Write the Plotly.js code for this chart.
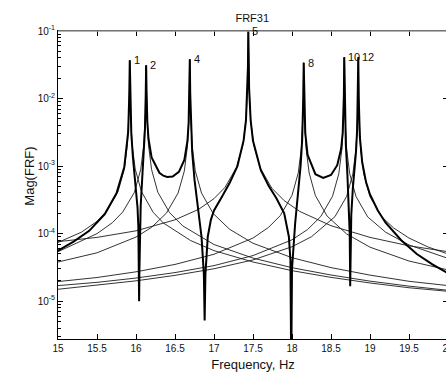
<!DOCTYPE html>
<html>
<head>
<meta charset="utf-8">
<script src="https://cdn.plot.ly/plotly-3.0.1.min.js"></script>
<style>
html, body { margin: 0; padding: 0; overflow: hidden; background: #fff; }
#chart { width: 448px; height: 376px; }
</style>
</head>
<body>
<div id="chart"></div>
<script>
// ---- data ----
const freqTicks = [15, 15.5, 16, 16.5, 17, 17.5, 18, 18.5, 19, 19.5, 20];
const freqTickText = ['15', '15.5', '16', '16.5', '17', '17.5', '18', '18.5', '19', '19.5', '20'];
const magTicks = [1e-5, 1e-4, 1e-3, 1e-2, 1e-1];
const magTickText = ['10<sup>-5</sup>', '10<sup>-4</sup>', '10<sup>-3</sup>', '10<sup>-2</sup>', '10<sup>-1</sup>'];

const modeLabels = ['1', '2', '4', '5', '8', '10', '12'];
const peakFreq = [15.92, 16.13, 16.69, 17.44, 18.15, 18.67, 18.85];
const peakMag = [0.037, 0.031, 0.038, 0.1, 0.034, 0.041, 0.041];

const mode1F = [15, 15.3, 15.5, 15.62, 15.77, 15.85, 15.89, 15.91, 15.92, 15.93, 15.95, 15.99, 16.07, 16.22, 16.35, 16.7, 17, 17.5, 18, 18.5, 19, 19.5, 20];
const mode1Mag = [7.4e-5, 1.05e-4, 1.52e-4, 2.11e-4, 4.2e-4, 9.0e-4, 2.09e-3, 6.3e-3, 0.037, 6.3e-3, 2.09e-3, 9.0e-4, 4.2e-4, 2.07e-4, 1.44e-4, 7.9e-5, 5.6e-5, 3.8e-5, 2.83e-5, 2.25e-5, 1.86e-5, 1.58e-5, 1.4e-5];

const mode2F = [15, 15.5, 15.7, 15.83, 15.98, 16.06, 16.10, 16.12, 16.13, 16.14, 16.16, 16.20, 16.28, 16.43, 16.6, 17, 17.5, 18, 18.5, 19, 19.5, 20];
const mode2Mag = [5.4e-5, 1.0e-4, 1.46e-4, 2.09e-4, 4.1e-4, 8.85e-4, 2.07e-3, 6.2e-3, 0.031, 6.2e-3, 2.07e-3, 8.85e-4, 4.1e-4, 2.05e-4, 1.3e-4, 6.9e-5, 4.34e-5, 3.13e-5, 2.44e-5, 1.98e-5, 1.67e-5, 1.45e-5];

const mode4F = [15, 15.5, 16, 16.2, 16.39, 16.54, 16.62, 16.66, 16.68, 16.69, 16.70, 16.72, 16.76, 16.84, 16.99, 17.2, 17.5, 18, 18.5, 19, 19.5, 20];
const mode4Mag = [3.8e-5, 5.2e-5, 8.9e-5, 1.24e-4, 2.01e-4, 4.0e-4, 8.5e-4, 2.0e-3, 6.0e-3, 0.038, 6.0e-3, 2.0e-3, 8.5e-4, 3.98e-4, 1.98e-4, 1.16e-4, 7.2e-5, 4.4e-5, 3.14e-5, 2.43e-5, 1.97e-5, 1.7e-5];

const mode5F = [15, 15.5, 16, 16.5, 16.8, 17.0, 17.14, 17.29, 17.37, 17.41, 17.43, 17.44, 17.45, 17.47, 17.51, 17.59, 17.74, 17.9, 18.1, 18.5, 19, 19.5, 20];
const mode5Mag = [7.6e-5, 8.8e-5, 1.1e-4, 1.6e-4, 2.28e-4, 3.3e-4, 4.82e-4, 9.6e-4, 2.05e-3, 4.78e-3, 1.43e-2, 0.1, 1.43e-2, 4.78e-3, 2.05e-3, 9.5e-4, 4.73e-4, 3.08e-4, 2.13e-4, 1.31e-4, 8.8e-5, 6.6e-5, 5.4e-5];

const mode8F = [15, 15.5, 16, 16.5, 17, 17.5, 17.7, 17.85, 18.0, 18.08, 18.12, 18.14, 18.15, 18.16, 18.18, 18.22, 18.3, 18.45, 18.7, 19, 19.5, 20];
const mode8Mag = [1.95e-5, 2.24e-5, 2.72e-5, 3.5e-5, 4.95e-5, 8.6e-5, 1.24e-4, 1.85e-4, 3.69e-4, 7.9e-4, 1.84e-3, 5.5e-3, 0.034, 5.5e-3, 1.84e-3, 7.9e-4, 3.66e-4, 1.82e-4, 9.9e-5, 6.3e-5, 3.93e-5, 2.9e-5];

const mode10F = [15, 15.5, 16, 16.5, 17, 17.5, 18, 18.2, 18.37, 18.52, 18.60, 18.64, 18.66, 18.67, 18.68, 18.70, 18.74, 18.82, 18.97, 19.2, 19.5, 20];
const mode10Mag = [1.7e-5, 1.9e-5, 2.2e-5, 2.65e-5, 3.36e-5, 4.73e-5, 8.1e-5, 1.15e-4, 1.8e-4, 3.58e-4, 7.7e-4, 1.79e-3, 5.36e-3, 0.041, 5.36e-3, 1.79e-3, 7.7e-4, 3.56e-4, 1.77e-4, 1.05e-4, 6.8e-5, 4.3e-5];

const mode12F = [15, 15.5, 16, 16.5, 17, 17.5, 18, 18.25, 18.55, 18.70, 18.78, 18.82, 18.84, 18.85, 18.86, 18.88, 18.92, 19.0, 19.15, 19.3, 19.5, 19.75, 20];
const mode12Mag = [1.5e-5, 1.72e-5, 2.0e-5, 2.41e-5, 3.02e-5, 4.08e-5, 6.4e-5, 9.0e-5, 1.78e-4, 3.55e-4, 7.6e-4, 1.77e-3, 5.3e-3, 0.041, 5.3e-3, 1.77e-3, 7.6e-4, 3.52e-4, 1.78e-4, 1.22e-4, 8.6e-5, 6.3e-5, 5.0e-5];

const totalF = [15, 15.2, 15.4, 15.6, 15.75, 15.85, 15.9, 15.91, 15.915, 15.92, 15.925, 15.93, 15.94, 15.96, 15.98, 16.0, 16.02, 16.03, 16.036, 16.04, 16.044, 16.05, 16.06, 16.08, 16.1, 16.115, 16.125, 16.13, 16.135, 16.145, 16.16, 16.2, 16.3, 16.35, 16.4, 16.47, 16.55, 16.62, 16.66, 16.675, 16.685, 16.69, 16.695, 16.705, 16.72, 16.75, 16.8, 16.84, 16.87, 16.88, 16.89, 16.92, 16.96, 17.0, 17.1, 17.2, 17.3, 17.38, 17.41, 17.43, 17.435, 17.44, 17.445, 17.45, 17.47, 17.5, 17.6, 17.7, 17.8, 17.9, 17.96, 17.98, 17.99, 18.0, 18.04, 18.08, 18.11, 18.13, 18.14, 18.145, 18.15, 18.155, 18.16, 18.17, 18.2, 18.3, 18.4, 18.5, 18.58, 18.63, 18.65, 18.66, 18.665, 18.67, 18.675, 18.68, 18.69, 18.71, 18.73, 18.74, 18.746, 18.75, 18.76, 18.78, 18.8, 18.82, 18.835, 18.845, 18.85, 18.855, 18.86, 18.87, 18.9, 18.95, 19.0, 19.1, 19.2, 19.4, 19.6, 19.8, 20];
const totalMag = [5.6e-5, 7.6e-5, 1.1e-4, 1.95e-4, 3.95e-4, 9.7e-4, 3.24e-3, 6.4e-3, 1.26e-2, 0.037, 1.24e-2, 6.3e-3, 3.0e-3, 1.37e-3, 8.0e-4, 4.8e-4, 2.4e-4, 1.26e-4, 5e-5, 1.0e-5, 3e-5, 1.05e-4, 2.56e-4, 6.7e-4, 1.53e-3, 3.56e-3, 1.19e-2, 0.031, 1.3e-2, 4.6e-3, 2.54e-3, 1.34e-3, 7.96e-4, 7.2e-4, 6.9e-4, 7.0e-4, 8.2e-4, 1.23e-3, 2.37e-3, 4.4e-3, 1.2e-2, 0.038, 1.21e-2, 3.6e-3, 1.63e-3, 6.3e-4, 2.2e-4, 9e-5, 2.5e-5, 5.2e-6, 2.5e-5, 9e-5, 1.6e-4, 2.2e-4, 3.5e-4, 5.6e-4, 1.0e-3, 2.4e-3, 4.8e-3, 1.43e-2, 2.9e-2, 0.1, 2.8e-2, 1.43e-2, 4.76e-3, 2.37e-3, 8.7e-4, 5.1e-4, 3.35e-4, 2.0e-4, 9e-5, 4e-5, 1e-6, 3e-5, 1.4e-4, 4.2e-4, 1.0e-3, 2.4e-3, 5.2e-3, 1.07e-2, 0.034, 1.15e-2, 5.8e-3, 3.1e-3, 1.47e-3, 7.6e-4, 6.7e-4, 7.4e-4, 1.03e-3, 1.8e-3, 3.1e-3, 5.9e-3, 1.1e-2, 0.041, 1.0e-2, 4.9e-3, 2.1e-3, 7.6e-4, 2.5e-4, 1.0e-4, 1.66e-5, 4.4e-5, 1.9e-4, 4.7e-4, 8.5e-4, 1.6e-3, 3.4e-3, 1.04e-2, 0.041, 1.06e-2, 5.4e-3, 2.7e-3, 1.14e-3, 5.75e-4, 3.8e-4, 2.2e-4, 1.45e-4, 8.0e-5, 5.0e-5, 3.5e-5, 2.6e-5];

// ---- traces ----
const modeSeries = [
  [mode1F, mode1Mag], [mode2F, mode2Mag], [mode4F, mode4Mag], [mode5F, mode5Mag],
  [mode8F, mode8Mag], [mode10F, mode10Mag], [mode12F, mode12Mag]
];
const traces = modeSeries.map((s, i) => ({
  x: s[0], y: s[1], type: 'scatter', mode: 'lines',
  name: 'mode ' + modeLabels[i],
  line: { color: '#1c1c1c', width: 0.9 },
  hoverinfo: 'skip'
}));
traces.push({
  x: totalF, y: totalMag, type: 'scatter', mode: 'lines', name: 'FRF31',
  line: { color: '#000', width: 2 }, hoverinfo: 'skip'
});
// empty trace that carries the overlaid minor-tick axis
traces.push({ x: [], y: [], type: 'scatter', mode: 'lines', yaxis: 'y2', hoverinfo: 'skip', showlegend: false });

const annotations = modeLabels.map((t, i) => ({
  x: peakFreq[i], y: Math.log10(peakMag[i]), xref: 'x', yref: 'y',
  text: t, showarrow: false, xanchor: 'left', yanchor: 'middle', xshift: 2,
  font: { size: 11, color: '#111' }
}));
annotations.push({
  xref: 'paper', yref: 'paper', x: -0.072, y: 0.53, xanchor: 'center', yanchor: 'middle',
  text: 'Mag(FRF)', textangle: -90, showarrow: false, font: { size: 13, color: '#111' }
});

// minor tick positions on the log axis (2..9 times each decade)
const minorTicks = [];
for (let d = -6; d <= -2; d++) for (let m = 2; m <= 9; m++) minorTicks.push(m * Math.pow(10, d));

const yRange = [-5.56, -1];
const layout = {
  width: 448, height: 376,
  margin: { l: 58, r: 0, t: 31, b: 37, pad: 0 },
  paper_bgcolor: '#fff', plot_bgcolor: '#fff',
  showlegend: false,
  font: { family: 'Liberation Sans, Arial, sans-serif', color: '#111', size: 10 },
  title: { text: 'FRF31', font: { size: 11, color: '#111' }, xref: 'container', x: 0.563, xanchor: 'center', yref: 'container', y: 0.952, yanchor: 'middle' },
  xaxis: {
    range: [15, 20], tickvals: freqTicks, ticktext: freqTickText,
    ticks: 'inside', ticklen: 5, tickcolor: '#000', tickwidth: 1,
    showline: true, linecolor: '#000', linewidth: 1, mirror: 'ticks',
    showgrid: false, zeroline: false, tickfont: { size: 10 }, ticklabeloverflow: 'allow',
    title: { text: 'Frequency, Hz', font: { size: 13 }, standoff: 6 }
  },
  yaxis: {
    type: 'log', range: yRange, tickmode: 'array', tickvals: magTicks, ticktext: magTickText,
    ticks: 'inside', ticklen: 5, tickcolor: '#000', tickwidth: 1,
    showline: true, linecolor: '#000', linewidth: 1, mirror: 'ticks',
    showgrid: false, zeroline: false, tickfont: { size: 10 }
  },
  yaxis2: {
    type: 'log', range: yRange, overlaying: 'y', side: 'left', anchor: 'x',
    tickmode: 'array', tickvals: minorTicks, showticklabels: false,
    ticks: 'inside', ticklen: 3, tickcolor: '#000', tickwidth: 1,
    showline: false, showgrid: false, zeroline: false
  },
  shapes: [
    { type: 'line', xref: 'paper', yref: 'paper', x0: 0, x1: 1, y0: 1, y1: 1, layer: 'above', line: { color: '#9a9a9a', width: 1.5 } }
  ],
  annotations: annotations
};

Plotly.newPlot('chart', traces, layout, { staticPlot: true, displayModeBar: false });
</script>
</body>
</html>
